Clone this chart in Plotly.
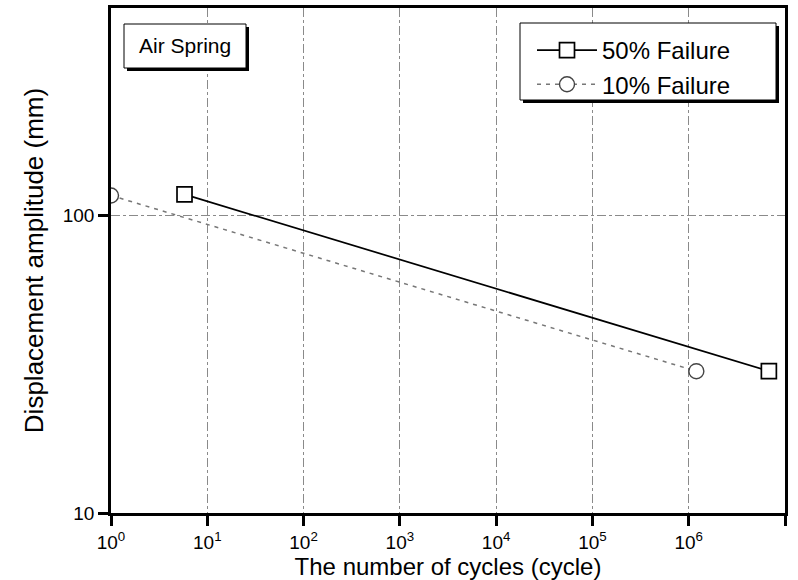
import math
import plotly.graph_objects as go

# Data
cycles_50 = [5.8, 6.8e6]
amp_50 = [118, 30]
cycles_10 = [1.0, 1.2e6]
amp_10 = [117, 30]
x_tickvals = [1, 10, 100, 1e3, 1e4, 1e5, 1e6, 1e7]
x_ticktext = ["10<sup>0</sup>", "10<sup>1</sup>", "10<sup>2</sup>", "10<sup>3</sup>",
              "10<sup>4</sup>", "10<sup>5</sup>", "10<sup>6</sup>", "10<sup>7</sup>"]
y_tickvals = [10, 100]
y_ticktext = ["10", "100"]
minor_x = [m * 10 ** k for k in range(0, 7) for m in range(2, 10)]
minor_y = [m * 10 ** k for k in range(1, 3) for m in range(2, 10) if m * 10 ** k <= 500]

FONT = "Liberation Sans, Arial, sans-serif"
XR = [0, 7]
YR = [1, 2.699]

# plot-area geometry (pixels)
W, H = 798, 580
L, R, T, B = 111, 13, 8, 67
PW, PH = W - L - R, H - T - B

fig = go.Figure()
fig.add_trace(go.Scatter(
    x=cycles_50, y=amp_50, mode="lines+markers", name="50% Failure",
    line=dict(color="black", width=1.7),
    marker=dict(symbol="square", size=15, color="white", line=dict(width=1.7, color="black")),
))
fig.add_trace(go.Scatter(
    x=cycles_10, y=amp_10, mode="lines+markers", name="10% Failure",
    line=dict(color="#777777", width=1.5, dash="4px,5px"),
    marker=dict(symbol="circle", size=15, color="white", line=dict(width=1.4, color="#444444")),
))

# minor ticks drawn as unclipped tick-shaped markers just outside the axes
MT = 7  # minor tick length in px
y_below = 10 ** (YR[0] - (MT / 2 + 1) / PH * (YR[1] - YR[0]))
x_left = 10 ** (XR[0] - (MT / 2 + 1) / PW * (XR[1] - XR[0]))
fig.add_trace(go.Scatter(
    x=minor_x, y=[y_below] * len(minor_x), mode="markers", cliponaxis=False,
    marker=dict(symbol="line-ns", size=MT, color="black", line=dict(width=2.2, color="black")),
    showlegend=False, hoverinfo="skip"))
fig.add_trace(go.Scatter(
    x=[x_left] * len(minor_y), y=minor_y, mode="markers", cliponaxis=False,
    marker=dict(symbol="line-ew", size=MT, color="black", line=dict(width=2.2, color="black")),
    showlegend=False, hoverinfo="skip"))

common = dict(type="log", showline=True, linecolor="black", linewidth=2.5, mirror=True,
              ticks="outside", ticklen=10, tickwidth=2.5, tickcolor="black",
              showgrid=True, gridcolor="#8a8a8a", gridwidth=1, griddash="dashdot",
              tickfont=dict(family=FONT, size=19, color="black"), zeroline=False,
              automargin=False)

fig.update_layout(
    xaxis=dict(range=XR, tickmode="array", tickvals=x_tickvals, ticktext=x_ticktext,
               title=dict(text="The number of cycles (cycle)",
                          font=dict(family=FONT, size=24, color="black"), standoff=14),
               **common),
    yaxis=dict(range=YR, tickmode="array", tickvals=y_tickvals, ticktext=y_ticktext,
               title=dict(text="Displacement amplitude (mm)",
                          font=dict(family=FONT, size=26, color="black"), standoff=12),
               **common),
)


def px_to_paper_x(px):
    return (px - L) / PW


def px_to_paper_y(py):
    return (H - B - py) / PH


shapes = []
for (x0, y0, x1, y1) in [(124, 24, 246, 68), (520, 23, 776, 100)]:
    shapes.append(dict(type="rect", xref="paper", yref="paper", layer="above",
                       x0=px_to_paper_x(x0 + 3), x1=px_to_paper_x(x1 + 3),
                       y0=px_to_paper_y(y1 + 3), y1=px_to_paper_y(y0 + 3),
                       fillcolor="black", line=dict(width=0)))
    shapes.append(dict(type="rect", xref="paper", yref="paper", layer="above",
                       x0=px_to_paper_x(x0), x1=px_to_paper_x(x1),
                       y0=px_to_paper_y(y1), y1=px_to_paper_y(y0),
                       fillcolor="white", line=dict(color="black", width=1)))

fig.update_layout(
    width=W, height=H,
    margin=dict(l=L, r=R, t=T, b=B),
    paper_bgcolor="white", plot_bgcolor="white",
    shapes=shapes,
    showlegend=True,
    legend=dict(x=px_to_paper_x(532), y=px_to_paper_y(28), xanchor="left", yanchor="top",
                bgcolor="rgba(0,0,0,0)", borderwidth=0,
                font=dict(family=FONT, size=24, color="black"),
                itemwidth=60, tracegroupgap=0),
    annotations=[dict(xref="paper", yref="paper", x=px_to_paper_x(185), y=px_to_paper_y(46),
                      xanchor="center", yanchor="middle",
                      text="Air Spring", showarrow=False,
                      font=dict(family=FONT, size=21, color="black"))],
)

fig.write_html("out.html")
